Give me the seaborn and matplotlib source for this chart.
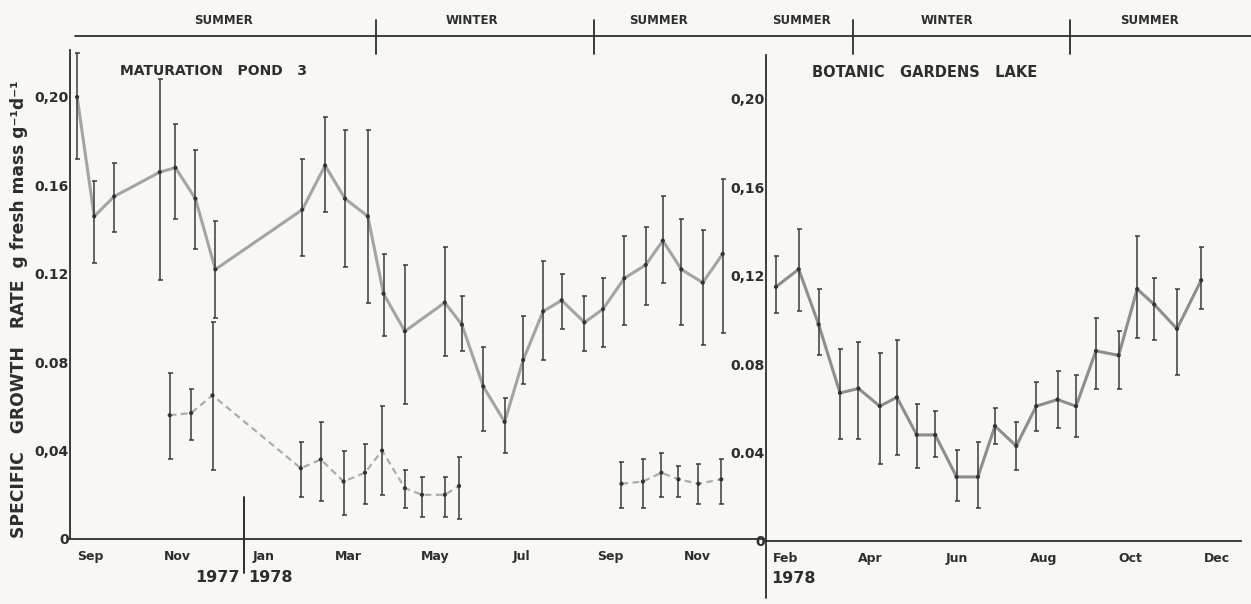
import numpy as np
import pandas as pd
import matplotlib
matplotlib.use("Agg")
import matplotlib.pyplot as plt
import matplotlib.dates as mdates
import matplotlib.transforms as mtransforms
from matplotlib.lines import Line2D
import seaborn as sns

# ---------------- data ----------------
# Maturation Pond 3, solid series
pond_dates = ['1977-09-06', '1977-09-18', '1977-10-02', '1977-11-03', '1977-11-14', '1977-11-28',
              '1977-12-12', '1978-02-11', '1978-02-27', '1978-03-13', '1978-03-29', '1978-04-09',
              '1978-04-24', '1978-05-22', '1978-06-03', '1978-06-18', '1978-07-03', '1978-07-16',
              '1978-07-30', '1978-08-12', '1978-08-28', '1978-09-10', '1978-09-25', '1978-10-10',
              '1978-10-22', '1978-11-04', '1978-11-19', '1978-12-03']
pond_rate = [0.200, 0.146, 0.155, 0.166, 0.168, 0.154, 0.122, 0.149, 0.169, 0.154, 0.146, 0.111,
             0.094, 0.107, 0.097, 0.069, 0.053, 0.081, 0.103, 0.108, 0.098, 0.104, 0.118, 0.124,
             0.135, 0.122, 0.116, 0.129]
pond_high = [0.220, 0.162, 0.170, 0.208, 0.188, 0.176, 0.144, 0.172, 0.191, 0.185, 0.185, 0.129,
             0.124, 0.132, 0.110, 0.087, 0.064, 0.101, 0.126, 0.120, 0.110, 0.118, 0.137, 0.141,
             0.155, 0.145, 0.140, 0.163]
pond_low = [0.172, 0.125, 0.139, 0.117, 0.145, 0.131, 0.100, 0.128, 0.148, 0.123, 0.107, 0.092,
            0.061, 0.083, 0.085, 0.049, 0.039, 0.070, 0.081, 0.095, 0.085, 0.087, 0.097, 0.106,
            0.116, 0.097, 0.088, 0.093]

# Maturation Pond 3, dashed series (two runs)
pond2_dates = ['1977-11-10', '1977-11-25', '1977-12-10', '1978-02-10', '1978-02-24', '1978-03-12',
               '1978-03-27', '1978-04-08', '1978-04-24', '1978-05-06', '1978-05-22', '1978-06-01',
               '1978-09-23', '1978-10-08', '1978-10-21', '1978-11-02', '1978-11-16', '1978-12-02']
pond2_run = [1] * 12 + [2] * 6
pond2_rate = [0.056, 0.057, 0.065, 0.032, 0.036, 0.026, 0.030, 0.040, 0.023, 0.020, 0.020, 0.024,
              0.025, 0.026, 0.030, 0.027, 0.025, 0.027]
pond2_high = [0.075, 0.068, 0.098, 0.044, 0.053, 0.040, 0.043, 0.060, 0.031, 0.028, 0.028, 0.037,
              0.035, 0.036, 0.039, 0.033, 0.034, 0.036]
pond2_low = [0.036, 0.045, 0.031, 0.019, 0.017, 0.011, 0.016, 0.020, 0.014, 0.010, 0.010, 0.009,
             0.014, 0.014, 0.019, 0.019, 0.016, 0.016]

# Botanic Gardens Lake
lake_dates = ['1978-02-08', '1978-02-24', '1978-03-10', '1978-03-25', '1978-04-07', '1978-04-22',
              '1978-05-04', '1978-05-18', '1978-05-31', '1978-06-15', '1978-06-30', '1978-07-12',
              '1978-07-27', '1978-08-10', '1978-08-25', '1978-09-07', '1978-09-21', '1978-10-07',
              '1978-10-20', '1978-11-01', '1978-11-17', '1978-12-04']
lake_rate = [0.115, 0.123, 0.098, 0.067, 0.069, 0.061, 0.065, 0.048, 0.048, 0.029, 0.029, 0.052,
             0.043, 0.061, 0.064, 0.061, 0.086, 0.084, 0.114, 0.107, 0.096, 0.118]
lake_high = [0.129, 0.141, 0.114, 0.087, 0.090, 0.085, 0.091, 0.062, 0.059, 0.041, 0.045, 0.060,
             0.054, 0.072, 0.077, 0.075, 0.101, 0.095, 0.138, 0.119, 0.114, 0.133]
lake_low = [0.103, 0.104, 0.084, 0.046, 0.046, 0.035, 0.039, 0.033, 0.038, 0.018, 0.015, 0.044,
            0.032, 0.050, 0.051, 0.047, 0.069, 0.069, 0.092, 0.091, 0.075, 0.105]

# axis text
left_month_labels = ['Sep', 'Nov', 'Jan', 'Mar', 'May', 'Jul', 'Sep', 'Nov']
left_month_pos = ['1977-09-15', '1977-11-15', '1978-01-15', '1978-03-15', '1978-05-15',
                  '1978-07-15', '1978-09-15', '1978-11-15']
right_month_labels = ['Feb', 'Apr', 'Jun', 'Aug', 'Oct', 'Dec']
right_month_pos = ['1978-02-15', '1978-04-15', '1978-06-15', '1978-08-15', '1978-10-15', '1978-12-15']
y_ticks = [0, 0.04, 0.08, 0.12, 0.16, 0.20]
left_ytick_labels = ['0', '0,04', '0.08', '0.12', '0.16', '0,20']
right_ytick_labels = ['0', '0.04', '0.08', '0,12', '0,16', '0,20']

season_labels_left = ['SUMMER', 'WINTER', 'SUMMER']
season_label_pos_left = ['1977-12-18', '1978-06-10', '1978-10-19']
season_bounds_left = ['1978-04-04', '1978-09-04']
season_labels_right = ['SUMMER', 'WINTER', 'SUMMER']
season_label_pos_right = ['1978-02-26', '1978-06-08', '1978-10-29']
season_bounds_right = ['1978-04-03', '1978-09-03']

# ---------------- style ----------------
sns.set_theme(style="white")
plt.rcParams['font.family'] = ['DejaVu Sans']
plt.rcParams['font.weight'] = 'bold'
BG = '#f8f7f4'
INK = '#2e2e2e'
plt.rcParams['axes.facecolor'] = BG

fig = plt.figure(figsize=(12.51, 6.04), dpi=100, facecolor=BG)
ax_l = fig.add_axes([70 / 1251, 1 - 539 / 604, 694 / 1251, 489 / 604])
ax_r = fig.add_axes([766 / 1251, 1 - 541 / 604, 475 / 1251, 486 / 604])

pond = pd.DataFrame({'date': pd.to_datetime(pond_dates), 'rate': pond_rate,
                     'low': pond_low, 'high': pond_high})
pond2 = pd.DataFrame({'date': pd.to_datetime(pond2_dates), 'rate': pond2_rate,
                      'low': pond2_low, 'high': pond2_high, 'run': pond2_run})
lake = pd.DataFrame({'date': pd.to_datetime(lake_dates), 'rate': lake_rate,
                     'low': lake_low, 'high': lake_high})


def draw_series(ax, df, color, lw, dashes=None, units=None):
    kw = dict(data=df, x='date', y='rate', ax=ax, color=color, lw=lw, legend=False)
    if units is not None:
        kw.update(units=units, estimator=None)
    sns.lineplot(**kw)
    if dashes is not None:
        for ln in ax.lines[-(df[units].nunique() if units else 1):]:
            ln.set_dashes(dashes)
    ax.errorbar(df['date'], df['rate'],
                yerr=[df['rate'] - df['low'], df['high'] - df['rate']],
                fmt='none', ecolor='#3a3a3a', elinewidth=1.1, capsize=1.8, capthick=1.1, zorder=3)
    sns.scatterplot(data=df, x='date', y='rate', ax=ax, color='#333333', s=9,
                    edgecolor='none', zorder=4, legend=False)


draw_series(ax_l, pond, '#a4a4a4', 2.2)
draw_series(ax_l, pond2, '#acacac', 1.6, dashes=(3, 2), units='run')
draw_series(ax_r, lake, '#8e8e8e', 2.2)

ax_l.set_xlim(pd.Timestamp('1977-09-01'), pd.Timestamp('1979-01-01'))
ax_r.set_xlim(pd.Timestamp('1978-02-01'), pd.Timestamp('1979-01-01'))
ax_l.set_ylim(0, (539 - 50) / 2210)
ax_r.set_ylim(0, (541 - 55) / 2210)

for ax, mlab, mpos, ylab in [(ax_l, left_month_labels, left_month_pos, left_ytick_labels),
                              (ax_r, right_month_labels, right_month_pos, right_ytick_labels)]:
    ax.set_xlabel('')
    ax.set_ylabel('')
    for s in ['top', 'right']:
        ax.spines[s].set_visible(False)
    for s in ['left', 'bottom']:
        ax.spines[s].set_color(INK)
        ax.spines[s].set_linewidth(1.3)
    ax.xaxis.set_major_locator(mdates.MonthLocator())
    ax.xaxis.set_major_formatter(plt.NullFormatter())
    ax.set_xticks(pd.to_datetime(mpos), minor=True)
    ax.set_xticklabels(mlab, minor=True)
    ax.tick_params(axis='x', which='major', direction='in', length=4, width=1, color=INK)
    ax.tick_params(axis='x', which='minor', length=0, pad=8, labelsize=9, labelcolor=INK)
    ax.set_yticks(y_ticks)
    ax.set_yticklabels(ylab)
    ax.set_yticks([0.02, 0.06, 0.10, 0.14, 0.18], minor=True)
    ax.tick_params(axis='y', which='both', direction='in', length=6, width=1, color=INK,
                   pad=1, labelsize=10, labelcolor=INK)
    ax.grid(False)

# panel titles
ax_l.text(0.072, 0.957, 'MATURATION   POND   3', transform=ax_l.transAxes, fontsize=10,
          color=INK, ha='left', va='center')
ax_r.text(0.097, 0.965, 'BOTANIC   GARDENS   LAKE', transform=ax_r.transAxes, fontsize=10.5,
          color=INK, ha='left', va='center')

# year divider and year labels
jan78 = mdates.date2num(pd.Timestamp('1978-01-01'))
bl = mtransforms.blended_transform_factory(ax_l.transData, ax_l.transAxes)
ax_l.add_line(Line2D([jan78, jan78], [0.086, -0.07], transform=bl, color=INK, lw=1.4,
                     clip_on=False))
ax_l.annotate('1977', xy=(jan78, 0), xycoords=bl, xytext=(-3, -28), textcoords='offset points',
              ha='right', va='center', fontsize=11.5, color=INK)
ax_l.annotate('1978', xy=(jan78, 0), xycoords=bl, xytext=(3, -28), textcoords='offset points',
              ha='left', va='center', fontsize=11.5, color=INK)
feb78 = mdates.date2num(pd.Timestamp('1978-02-01'))
br = mtransforms.blended_transform_factory(ax_r.transData, ax_r.transAxes)
ax_r.annotate('1978', xy=(feb78, 0), xycoords=br, xytext=(4, -27), textcoords='offset points',
              ha='left', va='center', fontsize=11.5, color=INK)
ax_r.add_line(Line2D([0, 0], [0, -0.117], transform=ax_r.transAxes, color=INK, lw=1.3,
                     clip_on=False))

# season bar
season_y = 1 - 36 / 604
fig.add_artist(Line2D([75 / 1251, 1.0], [season_y, season_y], transform=fig.transFigure,
                      color=INK, lw=1.3))
for ax, labs, lpos, bounds in [(ax_l, season_labels_left, season_label_pos_left, season_bounds_left),
                                (ax_r, season_labels_right, season_label_pos_right, season_bounds_right)]:
    bt = mtransforms.blended_transform_factory(ax.transData, fig.transFigure)
    for b in bounds:
        xb = mdates.date2num(pd.Timestamp(b))
        fig.add_artist(Line2D([xb, xb], [1 - 20 / 604, 1 - 54 / 604], transform=bt,
                              color=INK, lw=1.3))
    for lab, p in zip(labs, lpos):
        fig.text(mdates.date2num(pd.Timestamp(p)), 1 - 20 / 604, lab, transform=bt,
                 ha='center', va='center', fontsize=8.5, color=INK)

# y label
fig.text(19 / 1251, 1 - 309 / 604, 'SPECIFIC   GROWTH   RATE  g fresh mass g⁻¹d⁻¹',
         rotation=90, ha='center', va='center', fontsize=12.3, color=INK)

fig.savefig('out.png', dpi=100, facecolor=BG)
